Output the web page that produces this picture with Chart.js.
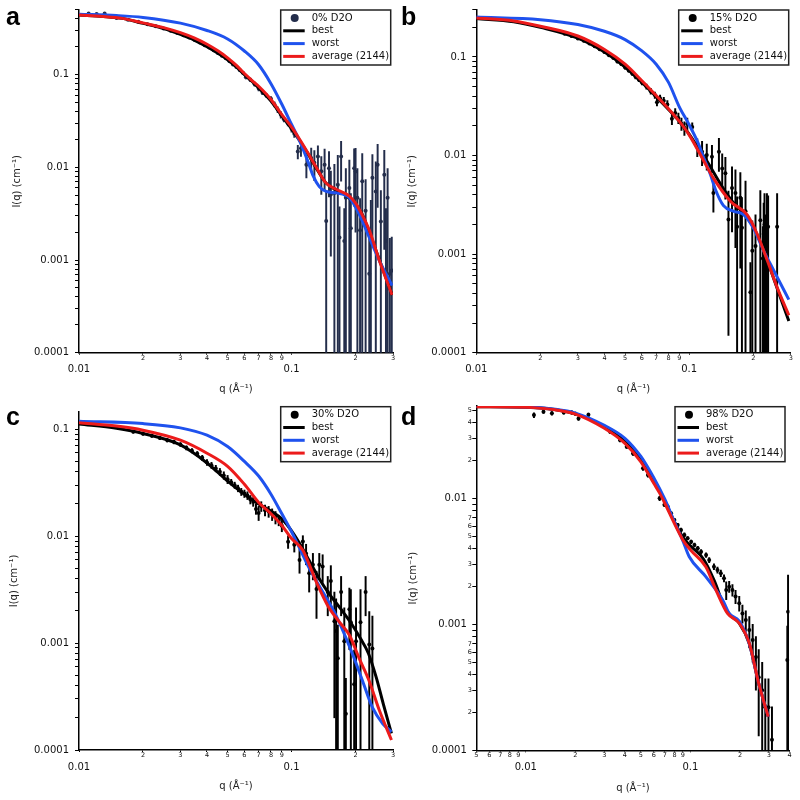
<!DOCTYPE html>
<html>
<head>
<meta charset="utf-8">
<script src="https://cdn.jsdelivr.net/npm/chart.js@4.4.0/dist/chart.umd.min.js"></script>
<style>
  html, body { margin: 0; padding: 0; background: #fff; }
  #wrap { position: relative; width: 800px; height: 800px; }
  canvas { position: absolute; }
</style>
</head>
<body>
<div id="wrap">
  <canvas id="pa" width="400" height="400" style="left:0;top:0"></canvas>
  <canvas id="pb" width="400" height="400" style="left:400px;top:0"></canvas>
  <canvas id="pc" width="400" height="400" style="left:0;top:400px"></canvas>
  <canvas id="pd" width="400" height="400" style="left:400px;top:400px"></canvas>
</div>
<script>
// ---- tick positions and labels ----
const xTicksABC = [0.01, 0.02, 0.03, 0.04, 0.05, 0.06, 0.07, 0.08, 0.09, 0.1, 0.2, 0.3];
const xLabelsABC = ['0.01', '2', '3', '4', '5', '6', '7', '8', '9', '0.1', '2', '3'];
const xTicksD = [0.005, 0.006, 0.007, 0.008, 0.009, 0.01, 0.02, 0.03, 0.04, 0.05, 0.06, 0.07, 0.08, 0.09, 0.1, 0.2, 0.3, 0.4];
const xLabelsD = ['5', '6', '7', '8', '9', '0.01', '2', '3', '4', '5', '6', '7', '8', '9', '0.1', '2', '3', '4'];

const yTicksABC = [0.0001, 0.0002, 0.0003, 0.0004, 0.0005, 0.0006, 0.0007, 0.0008, 0.0009,
  0.001, 0.002, 0.003, 0.004, 0.005, 0.006, 0.007, 0.008, 0.009,
  0.01, 0.02, 0.03, 0.04, 0.05, 0.06, 0.07, 0.08, 0.09,
  0.1, 0.2, 0.3, 0.4, 0.5];
const yLabelsABC = ['0.0001', '', '', '', '', '', '', '', '',
  '0.001', '', '', '', '', '', '', '', '',
  '0.01', '', '', '', '', '', '', '', '',
  '0.1', '', '', '', ''];
const yTicksD = [0.0001, 0.0002, 0.0003, 0.0004, 0.0005, 0.0006, 0.0007, 0.0008, 0.0009,
  0.001, 0.002, 0.003, 0.004, 0.005, 0.006, 0.007, 0.008, 0.009,
  0.01, 0.02, 0.03, 0.04, 0.05];
const yLabelsD = ['0.0001', '2', '3', '4', '5', '6', '7', '', '',
  '0.001', '2', '3', '4', '5', '6', '7', '', '',
  '0.01', '2', '3', '4', '5'];

// ---- panel a : 0% D2O ----
const aQ = [0.0111, 0.0121, 0.0132, 0.015, 0.017, 0.019, 0.021, 0.023, 0.025, 0.027, 0.029,
  0.031, 0.033, 0.035, 0.037, 0.039, 0.041, 0.043, 0.045, 0.047, 0.049,
  0.051, 0.053, 0.055, 0.057, 0.059, 0.061, 0.064, 0.067, 0.07, 0.073, 0.076, 0.08, 0.083, 0.086, 0.089, 0.092, 0.096, 0.1, 0.103,
  0.107, 0.1107, 0.1174, 0.1237, 0.128, 0.133, 0.138, 0.143, 0.1455, 0.15,
  0.153, 0.159, 0.165, 0.168, 0.171, 0.177, 0.18, 0.187, 0.19, 0.197,
  0.2, 0.204, 0.21, 0.215, 0.223, 0.232, 0.236, 0.24, 0.249, 0.254,
  0.263, 0.273, 0.278, 0.283, 0.29, 0.296];
const aI = [0.458, 0.452, 0.458, 0.41, 0.392, 0.372, 0.35, 0.333, 0.315, 0.297, 0.282,
  0.266, 0.252, 0.236, 0.222, 0.208, 0.196, 0.184, 0.171, 0.16, 0.15,
  0.14, 0.129, 0.121, 0.112, 0.105, 0.094, 0.088, 0.079, 0.071, 0.064, 0.06, 0.055, 0.048, 0.042, 0.037, 0.033, 0.03, 0.026, 0.023,
  0.0148, 0.0161, 0.0107, 0.0126, 0.0112, 0.0131, 0.0091, 0.0107, 0.00264, 0.0098,
  0.0051, 0.0053, 0.0065, 0.00175, 0.0131, 0.0016, 0.0047, 0.006, 0.0022, 0.0098,
  0.009, 0.0047, 0.0021, 0.0071, 0.0034, 0.00071, 0.0019, 0.0077, 0.0055, 0.0107,
  0.0026, 0.0083, 0.0016, 0.0047, 0.00071, 0.00077];
const aErr = [0.006, 0.006, 0.006, 0.004, 0.004, 0.004, 0.004, 0.003, 0.003, 0.003, 0.003,
  0.003, 0.003, 0.003, 0.003, 0.003, 0.003, 0.003, 0.003, 0.003, 0.003,
  0.003, 0.003, 0.003, 0.003, 0.003, 0.004, 0.004, 0.004, 0.004, 0.003, 0.003, 0.003, 0.003, 0.003, 0.003, 0.002, 0.002, 0.002, 0.002,
  0.0025, 0.003, 0.003, 0.0035, 0.004, 0.004, 0.004, 0.005, 0.003, 0.005,
  0.004, 0.0055, 0.007, 0.002, 0.006, 0.002, 0.005, 0.006, 0.003, 0.006,
  0.007, 0.005, 0.0025, 0.007, 0.004, 0.001, 0.0025, 0.006, 0.006, 0.007,
  0.003, 0.007, 0.002, 0.005, 0.001, 0.001];
const aBestQ = [0.01, 0.013, 0.016, 0.02, 0.025, 0.03, 0.035, 0.04, 0.045, 0.05, 0.055, 0.06, 0.065, 0.07, 0.08, 0.09, 0.1, 0.11, 0.12, 0.13, 0.145, 0.16, 0.18, 0.2, 0.215, 0.23, 0.26, 0.297];
const aBestI = [0.44, 0.425, 0.405, 0.358, 0.315, 0.272, 0.235, 0.2, 0.17, 0.145, 0.121, 0.1, 0.085, 0.072, 0.052, 0.036, 0.026, 0.0189, 0.0138, 0.01, 0.0068, 0.0058, 0.005, 0.004, 0.0031, 0.0021, 0.00098, 0.00042];
const aWorstQ = [0.01, 0.015, 0.02, 0.03, 0.04, 0.05, 0.06, 0.07, 0.08, 0.09, 0.1, 0.11, 0.12, 0.126, 0.135, 0.1455, 0.162, 0.187, 0.2085, 0.232, 0.259, 0.297];
const aWorstI = [0.45, 0.435, 0.415, 0.36, 0.3, 0.243, 0.18, 0.128, 0.08, 0.048, 0.029, 0.0185, 0.0112, 0.0082, 0.0062, 0.0055, 0.0053, 0.0047, 0.0031, 0.00175, 0.00098, 0.00053];
const aAvgQ = [0.01, 0.013, 0.016, 0.02, 0.025, 0.03, 0.035, 0.04, 0.045, 0.05, 0.055, 0.06, 0.065, 0.07, 0.08, 0.09, 0.1, 0.11, 0.12, 0.13, 0.145, 0.162, 0.187, 0.2, 0.21, 0.232, 0.259, 0.297];
const aAvgI = [0.44, 0.425, 0.405, 0.362, 0.322, 0.284, 0.248, 0.213, 0.181, 0.152, 0.126, 0.103, 0.087, 0.075, 0.054, 0.037, 0.0272, 0.0195, 0.014, 0.0102, 0.0068, 0.0058, 0.0049, 0.0041, 0.0034, 0.0021, 0.00098, 0.00042];

// ---- panel b : 15% D2O ----
const bQ = [0.026, 0.028, 0.03, 0.032, 0.034, 0.036, 0.038, 0.04, 0.042, 0.044, 0.046, 0.048, 0.05, 0.052, 0.054, 0.056, 0.058, 0.06,
  0.063, 0.066, 0.069, 0.0706, 0.073, 0.076, 0.079, 0.083, 0.086, 0.089, 0.092, 0.095, 0.098,
  0.1034, 0.1092, 0.115, 0.121, 0.128, 0.13, 0.138, 0.143, 0.148, 0.153, 0.159, 0.165, 0.168, 0.174, 0.177, 0.184,
  0.194, 0.198, 0.205, 0.216, 0.222, 0.224, 0.226, 0.229, 0.232, 0.235, 0.259];
const bI = [0.172, 0.163, 0.154, 0.146, 0.137, 0.128, 0.12, 0.112, 0.104, 0.098, 0.09, 0.085, 0.078, 0.073, 0.068, 0.063, 0.059, 0.055,
  0.05, 0.045, 0.041, 0.0348, 0.038, 0.036, 0.033, 0.0236, 0.027, 0.024, 0.021, 0.019, 0.021,
  0.0195, 0.01225, 0.0109, 0.0101, 0.0097, 0.00416, 0.0109, 0.0074, 0.0066, 0.00225, 0.00468, 0.00416, 0.0019, 0.00372, 0.00185, 0.00272,
  0.00041, 0.00108, 0.00121, 0.0022, 0.0009, 0.0016, 0.002, 0.0012, 0.002, 0.0019, 0.0019];
const bErr = [0.004, 0.004, 0.004, 0.004, 0.003, 0.003, 0.003, 0.003, 0.003, 0.003, 0.003, 0.003, 0.003, 0.003, 0.003, 0.003, 0.003, 0.003,
  0.003, 0.003, 0.003, 0.003, 0.003, 0.003, 0.003, 0.003, 0.003, 0.003, 0.003, 0.003, 0.003,
  0.002, 0.0025, 0.003, 0.003, 0.003, 0.0015, 0.004, 0.003, 0.003, 0.0021, 0.003, 0.003, 0.0019, 0.003, 0.0019, 0.0028,
  0.00041, 0.0011, 0.0013, 0.0022, 0.001, 0.0017, 0.0021, 0.0013, 0.0021, 0.002, 0.0022];
const bBestQ = [0.01, 0.015, 0.02, 0.03, 0.04, 0.05, 0.06, 0.07, 0.08, 0.09, 0.1, 0.11, 0.12, 0.13, 0.145, 0.16, 0.18, 0.2, 0.22, 0.24, 0.26, 0.294];
const bBestI = [0.245, 0.228, 0.2, 0.155, 0.112, 0.079, 0.055, 0.0395, 0.0293, 0.0222, 0.0165, 0.012, 0.0091, 0.0068, 0.0046, 0.0034, 0.0026, 0.0019, 0.0012, 0.00072, 0.00044, 0.00021];
const bWorstQ = [0.01, 0.02, 0.03, 0.04, 0.05, 0.06, 0.07, 0.08, 0.09, 0.1, 0.11, 0.1175, 0.126, 0.133, 0.145, 0.162, 0.18, 0.2, 0.224, 0.25, 0.294];
const bWorstI = [0.254, 0.239, 0.213, 0.182, 0.15, 0.115, 0.0844, 0.0552, 0.031, 0.0205, 0.0135, 0.0093, 0.0064, 0.0045, 0.0031, 0.00272, 0.00252, 0.00185, 0.00108, 0.00068, 0.000345];
const bAvgQ = [0.01, 0.015, 0.02, 0.03, 0.04, 0.05, 0.06, 0.07, 0.08, 0.09, 0.1, 0.1175, 0.13, 0.157, 0.1875, 0.209, 0.233, 0.259, 0.294];
const bAvgI = [0.248, 0.232, 0.205, 0.163, 0.119, 0.0844, 0.0574, 0.0406, 0.0298, 0.0222, 0.0162, 0.0087, 0.0059, 0.0034, 0.0025, 0.00159, 0.00086, 0.00046, 0.00024];

// ---- panel c : 30% D2O ----
const cQ = [0.018, 0.02, 0.022, 0.024, 0.026, 0.028, 0.03, 0.032, 0.034, 0.036, 0.038, 0.04, 0.042, 0.044, 0.046, 0.048, 0.05,
  0.052, 0.054, 0.056, 0.058, 0.06, 0.062, 0.064, 0.066, 0.068, 0.07, 0.072, 0.075, 0.078, 0.081, 0.084, 0.087, 0.09,
  0.0963, 0.103, 0.109, 0.113, 0.117, 0.121, 0.126, 0.131, 0.135, 0.14, 0.148, 0.153, 0.159,
  0.162, 0.165, 0.171, 0.177, 0.18, 0.187, 0.19, 0.197, 0.201, 0.211, 0.223, 0.232, 0.24];
const cI = [0.095, 0.091, 0.087, 0.083, 0.079, 0.076, 0.072, 0.067, 0.063, 0.059, 0.054, 0.049, 0.046, 0.043, 0.04, 0.037, 0.034,
  0.032, 0.03, 0.028, 0.026, 0.025, 0.024, 0.022, 0.021, 0.018, 0.0165, 0.019, 0.0175, 0.017, 0.016, 0.015, 0.014, 0.0125,
  0.00888, 0.0083, 0.006, 0.0089, 0.0069, 0.0045, 0.0054, 0.0032, 0.0054, 0.0052, 0.003, 0.0038, 0.0016,
  0.0013, 0.00072, 0.003, 0.00104, 0.000218, 0.00207, 0.00157, 0.000412, 0.00104, 0.00157, 0.003, 0.00097, 0.00089];
const cErr = [0.003, 0.003, 0.003, 0.003, 0.003, 0.003, 0.003, 0.003, 0.003, 0.003, 0.003, 0.003, 0.003, 0.003, 0.003, 0.003, 0.003,
  0.002, 0.002, 0.002, 0.002, 0.002, 0.002, 0.002, 0.002, 0.002, 0.0025, 0.002, 0.002, 0.002, 0.002, 0.002, 0.0015, 0.0015,
  0.0012, 0.0012, 0.0015, 0.0012, 0.0015, 0.0015, 0.0015, 0.0015, 0.0015, 0.0015, 0.0012, 0.0015, 0.0014,
  0.0013, 0.00075, 0.0012, 0.0011, 0.00025, 0.0012, 0.0016, 0.00045, 0.0011, 0.0016, 0.0012, 0.001, 0.0009];
const cBestQ = [0.01, 0.015, 0.02, 0.03, 0.04, 0.05, 0.06, 0.07, 0.08, 0.09, 0.1, 0.11, 0.12, 0.135, 0.15, 0.17, 0.19, 0.21, 0.23, 0.25, 0.27, 0.295];
const cBestI = [0.112, 0.102, 0.0912, 0.0713, 0.0484, 0.0328, 0.0247, 0.02, 0.0172, 0.0145, 0.0112, 0.0083, 0.0061, 0.004, 0.0029, 0.0021, 0.00155, 0.00112, 0.0008, 0.00048, 0.00027, 0.000143];
const cWorstQ = [0.01, 0.02, 0.03, 0.04, 0.05, 0.06, 0.07, 0.08, 0.09, 0.1, 0.11, 0.12, 0.135, 0.162, 0.194, 0.216, 0.24, 0.268, 0.295];
const cWorstI = [0.119, 0.113, 0.103, 0.088, 0.0689, 0.05, 0.0365, 0.0247, 0.0162, 0.011, 0.00745, 0.0052, 0.00342, 0.00181, 0.00078, 0.00044, 0.00025, 0.000177, 0.000148];
const cAvgQ = [0.01, 0.015, 0.02, 0.03, 0.04, 0.05, 0.06, 0.07, 0.08, 0.09, 0.1, 0.113, 0.131, 0.148, 0.168, 0.187, 0.208, 0.232, 0.259, 0.295];
const cAvgI = [0.115, 0.107, 0.098, 0.079, 0.0597, 0.045, 0.0306, 0.0207, 0.0162, 0.0126, 0.0095, 0.0074, 0.0037, 0.00224, 0.00157, 0.00119, 0.00072, 0.00044, 0.000234, 0.000124];

// ---- panel d : 98% D2O ----
const dQ = [0.0112, 0.0128, 0.0144, 0.017, 0.019, 0.02, 0.0209, 0.024, 0.0325, 0.0373,
  0.041, 0.0448, 0.0515, 0.0552, 0.059, 0.065, 0.0665, 0.0695, 0.0729, 0.0763,
  0.0799, 0.0837, 0.0877, 0.0919, 0.0962, 0.101, 0.1058, 0.1108, 0.1161, 0.1245,
  0.13, 0.139, 0.146, 0.153, 0.16, 0.165, 0.172, 0.18, 0.188, 0.198,
  0.207, 0.217, 0.228, 0.239, 0.25, 0.26, 0.273, 0.285, 0.298, 0.313,
  0.388, 0.392];
const dI = [0.0458, 0.0488, 0.0473, 0.048, 0.048, 0.047, 0.043, 0.046, 0.0338, 0.029,
  0.0257, 0.0227, 0.0173, 0.0153, 0.0141, 0.01, 0.0103, 0.0089, 0.00857, 0.0076,
  0.00673, 0.00614, 0.0056, 0.00512, 0.00482, 0.00452, 0.00426, 0.00401, 0.00377, 0.00355,
  0.00324, 0.00287, 0.0027, 0.00254, 0.00232, 0.00187, 0.00199, 0.00187, 0.00166, 0.00147,
  0.00122, 0.00108, 0.0009, 0.00075, 0.00055, 0.00038, 0.0003, 0.00022, 0.00022, 0.000121,
  0.00052, 0.00126];
const dErr = [0.002, 0.0015, 0.0015, 0.0015, 0.0015, 0.0015, 0.0015, 0.0015, 0.001, 0.001,
  0.0008, 0.0008, 0.0006, 0.0006, 0.0005, 0.0004, 0.0004, 0.0003, 0.0003, 0.0002,
  0.0002, 0.0002, 0.0002, 0.0002, 0.00015, 0.00015, 0.00015, 0.00015, 0.00015, 0.00015,
  0.00015, 0.00015, 0.00015, 0.00015, 0.00015, 0.0003, 0.0002, 0.0002, 0.0002, 0.0002,
  0.0002, 0.0002, 0.00025, 0.00025, 0.00025, 0.00025, 0.0002, 0.00015, 0.00015, 0.0001,
  0.00045, 0.0012];
const dBestQ = [0.005, 0.01, 0.015, 0.02, 0.03, 0.04, 0.05, 0.06, 0.07, 0.08, 0.09, 0.1, 0.12, 0.14, 0.16, 0.175, 0.198, 0.228, 0.26, 0.297];
const dBestI = [0.0534, 0.0529, 0.0507, 0.047, 0.0368, 0.0283, 0.0205, 0.0138, 0.0094, 0.0065, 0.0049, 0.0042, 0.0033, 0.0022, 0.0014, 0.00118, 0.00102, 0.0007, 0.00034, 0.000185];
const dWorstQ = [0.005, 0.01, 0.015, 0.02, 0.03, 0.04, 0.05, 0.06, 0.07, 0.08, 0.09, 0.0984, 0.124, 0.157, 0.172, 0.198, 0.228, 0.26, 0.297];
const dWorstI = [0.0536, 0.0532, 0.051, 0.0475, 0.038, 0.03, 0.0215, 0.0145, 0.0098, 0.0065, 0.0046, 0.00344, 0.00239, 0.00156, 0.00122, 0.00106, 0.0007, 0.00034, 0.000185];
const dAvgQ = [0.005, 0.01, 0.015, 0.02, 0.03, 0.04, 0.05, 0.06, 0.065, 0.07, 0.08, 0.0898, 0.1, 0.124, 0.143, 0.168, 0.198, 0.228, 0.26, 0.297];
const dAvgI = [0.0534, 0.0528, 0.0505, 0.0467, 0.036, 0.0273, 0.0195, 0.0131, 0.011, 0.0091, 0.0063, 0.0047, 0.0039, 0.00286, 0.00187, 0.00122, 0.00102, 0.000706, 0.00034, 0.000185];

const NAVY = '#232d4b';
const BLACK = '#000000';
const BLUE = '#1f52ee';
const RED = '#ec1b1b';
const FONT = '"DejaVu Sans", Verdana, sans-serif';

Chart.defaults.font.family = FONT;
Chart.defaults.color = '#111';

function pts(qs, vals) {
  return qs.map((q, i) => ({ x: q, y: vals[i] }));
}

// error bars as floating bars [I - dI, I + dI]; values below the axis get clipped
function errBars(qs, vals, errs) {
  return qs.map((q, i) => ({ x: q, y: [Math.max(vals[i] - errs[i], 1e-6), vals[i] + errs[i]] }));
}

function isDecade(v) {
  const l = Math.log10(v);
  return Math.abs(l - Math.round(l)) < 1e-6;
}

// draws the boxed legend and the panel letter
const decoPlugin = {
  id: 'deco',
  afterDraw(chart, args, opts) {
    const ctx = chart.ctx;
    ctx.save();
    ctx.fillStyle = '#000';
    ctx.font = 'bold 25px "Liberation Sans", Arial, sans-serif';
    ctx.textBaseline = 'alphabetic';
    ctx.fillText(opts.letter, opts.letterX, 25);

    const items = chart.data.datasets.filter(ds => ds.label);
    const w = 110, h = 55;
    const x0 = opts.legendRight - w, y0 = opts.legendTop;
    ctx.fillStyle = '#fff';
    ctx.fillRect(x0, y0, w, h);
    ctx.strokeStyle = '#222';
    ctx.lineWidth = 1.5;
    ctx.strokeRect(x0, y0, w, h);
    ctx.font = '10px ' + FONT;
    ctx.textBaseline = 'middle';
    items.forEach((ds, i) => {
      const y = y0 + 8 + i * 12.8;
      if (ds.type === 'scatter') {
        ctx.beginPath();
        ctx.arc(x0 + 14, y, 4, 0, Math.PI * 2);
        ctx.fillStyle = ds.backgroundColor;
        ctx.fill();
      } else {
        ctx.strokeStyle = ds.borderColor;
        ctx.lineWidth = 3;
        ctx.beginPath();
        ctx.moveTo(x0 + 2.5, y);
        ctx.lineTo(x0 + 24, y);
        ctx.stroke();
      }
      ctx.fillStyle = '#111';
      ctx.fillText(ds.label, x0 + 31, y);
    });
    ctx.restore();
  }
};

function makePanel(id, p) {
  const curve = (label, qs, vals, color, order) => ({
    type: 'line', label: label, data: pts(qs, vals), borderColor: color, backgroundColor: color,
    borderWidth: 3, pointRadius: 0, fill: false, cubicInterpolationMode: 'monotone', order: order
  });
  return new Chart(document.getElementById(id), {
    type: 'scatter',
    data: {
      datasets: [
        { type: 'scatter', label: p.dataLabel, data: pts(p.q, p.i), backgroundColor: p.dataColor,
          pointBackgroundColor: p.dataColor, pointBorderWidth: 0, pointRadius: 2, order: 4 },
        curve('best', p.bestQ, p.bestI, BLACK, 3),
        curve('worst', p.worstQ, p.worstI, BLUE, 2),
        curve('average (2144)', p.avgQ, p.avgI, RED, 1),
        { type: 'bar', label: '', data: errBars(p.q, p.i, p.err), backgroundColor: p.dataColor,
          barThickness: 1.3, borderWidth: 0, order: 5 }
      ]
    },
    options: {
      responsive: false,
      animation: false,
      layout: { padding: { left: 0, top: p.padTop, right: p.padRight, bottom: 0 } },
      plugins: {
        legend: { display: false },
        tooltip: { enabled: false },
        deco: { letter: p.letter, letterX: p.letterX, legendRight: p.legendRight, legendTop: p.legendTop }
      },
      scales: {
        x: {
          type: 'logarithmic', min: p.xMin, max: p.xMax, offset: false,
          afterBuildTicks: s => { s.ticks = p.xTicks.filter(v => v >= s.min * 0.999 && v <= s.max * 1.001).map(v => ({ value: v })); },
          afterFit: s => { s.height = p.xH; },
          grid: { drawOnChartArea: false, drawTicks: true, tickLength: 2, tickColor: '#000', offset: false },
          border: { display: true, color: '#000', width: 1.5 },
          ticks: {
            autoSkip: false, maxRotation: 0, minRotation: 0, padding: 0, color: '#111',
            callback: v => {
              const lab = p.xLabels[p.xTicks.indexOf(v)];
              return isDecade(v) ? ['', lab] : lab;
            },
            font: c => (c.tick && isDecade(c.tick.value)) ? { size: 10, lineHeight: 1.0 } : { size: 6.5, lineHeight: 1.0 }
          },
          title: { display: true, text: 'q (Å⁻¹)', color: '#222', font: { size: 10 }, padding: { top: 0, bottom: p.xTitlePad } }
        },
        y: {
          type: 'logarithmic', min: 0.0001, max: p.yMax,
          afterBuildTicks: s => { s.ticks = p.yTicks.filter(v => v >= s.min * 0.999 && v <= s.max * 1.001).map(v => ({ value: v })); },
          afterFit: s => { s.width = p.yW; },
          grid: { drawOnChartArea: false, drawTicks: true, tickLength: 4, tickColor: '#000' },
          border: { display: true, color: '#000', width: 1.5 },
          ticks: {
            autoSkip: false, padding: p.yTickPad, color: '#111',
            callback: v => {
              const lab = p.yLabels[p.yTicks.indexOf(v)];
              return (isDecade(v) && p.yMajorPad) ? lab + '\u2002' : lab;
            },
            font: c => (c.tick && isDecade(c.tick.value)) ? { size: 10 } : { size: 6.5 }
          },
          title: { display: true, text: 'I(q) (cm⁻¹)', color: '#222', font: { size: 10 }, padding: { top: p.yTitlePad, bottom: 0 } }
        }
      }
    },
    plugins: [decoPlugin]
  });
}

makePanel('pa', {
  letter: 'a', letterX: 6, dataLabel: '0% D2O', dataColor: NAVY,
  q: aQ, i: aI, err: aErr, bestQ: aBestQ, bestI: aBestI, worstQ: aWorstQ, worstI: aWorstI, avgQ: aAvgQ, avgI: aAvgI,
  xMin: 0.01, xMax: 0.3, yMax: 0.5, xTicks: xTicksABC, xLabels: xLabelsABC, yTicks: yTicksABC, yLabels: yLabelsABC,
  padTop: 7.5, padRight: 7, yW: 79, xH: 47.3, yTickPad: 6, yMajorPad: false, yTitlePad: 11, xTitlePad: 5,
  legendRight: 390.7, legendTop: 10
});
makePanel('pb', {
  letter: 'b', letterX: 1, dataLabel: '15% D2O', dataColor: BLACK,
  q: bQ, i: bI, err: bErr, bestQ: bBestQ, bestI: bBestI, worstQ: bWorstQ, worstI: bWorstI, avgQ: bAvgQ, avgI: bAvgI,
  xMin: 0.01, xMax: 0.3, yMax: 0.3, xTicks: xTicksABC, xLabels: xLabelsABC, yTicks: yTicksABC, yLabels: yLabelsABC,
  padTop: 6.8, padRight: 9.3, yW: 76.3, xH: 47.3, yTickPad: 6, yMajorPad: false, yTitlePad: 6.5, xTitlePad: 5,
  legendRight: 388.7, legendTop: 10
});
makePanel('pc', {
  letter: 'c', letterX: 6, dataLabel: '30% D2O', dataColor: BLACK,
  q: cQ, i: cI, err: cErr, bestQ: cBestQ, bestI: cBestI, worstQ: cWorstQ, worstI: cWorstI, avgQ: cAvgQ, avgI: cAvgI,
  xMin: 0.01, xMax: 0.3, yMax: 0.145, xTicks: xTicksABC, xLabels: xLabelsABC, yTicks: yTicksABC, yLabels: yLabelsABC,
  padTop: 6.5, padRight: 7, yW: 79, xH: 50, yTickPad: 6, yMajorPad: false, yTitlePad: 8, xTitlePad: 7.3,
  legendRight: 390.7, legendTop: 6.7
});
makePanel('pd', {
  letter: 'd', letterX: 1, dataLabel: '98% D2O', dataColor: BLACK,
  q: dQ, i: dI, err: dErr, bestQ: dBestQ, bestI: dBestI, worstQ: dWorstQ, worstI: dWorstI, avgQ: dAvgQ, avgI: dAvgI,
  xMin: 0.005, xMax: 0.4, yMax: 0.054, xTicks: xTicksD, xLabels: xLabelsD, yTicks: yTicksD, yLabels: yLabelsD,
  padTop: 6.1, padRight: 10.5, yW: 76.3, xH: 49.7, yTickPad: 0.5, yMajorPad: true, yTitlePad: 7, xTitlePad: 6,
  legendRight: 385, legendTop: 6.7
});
</script>
</body>
</html>
